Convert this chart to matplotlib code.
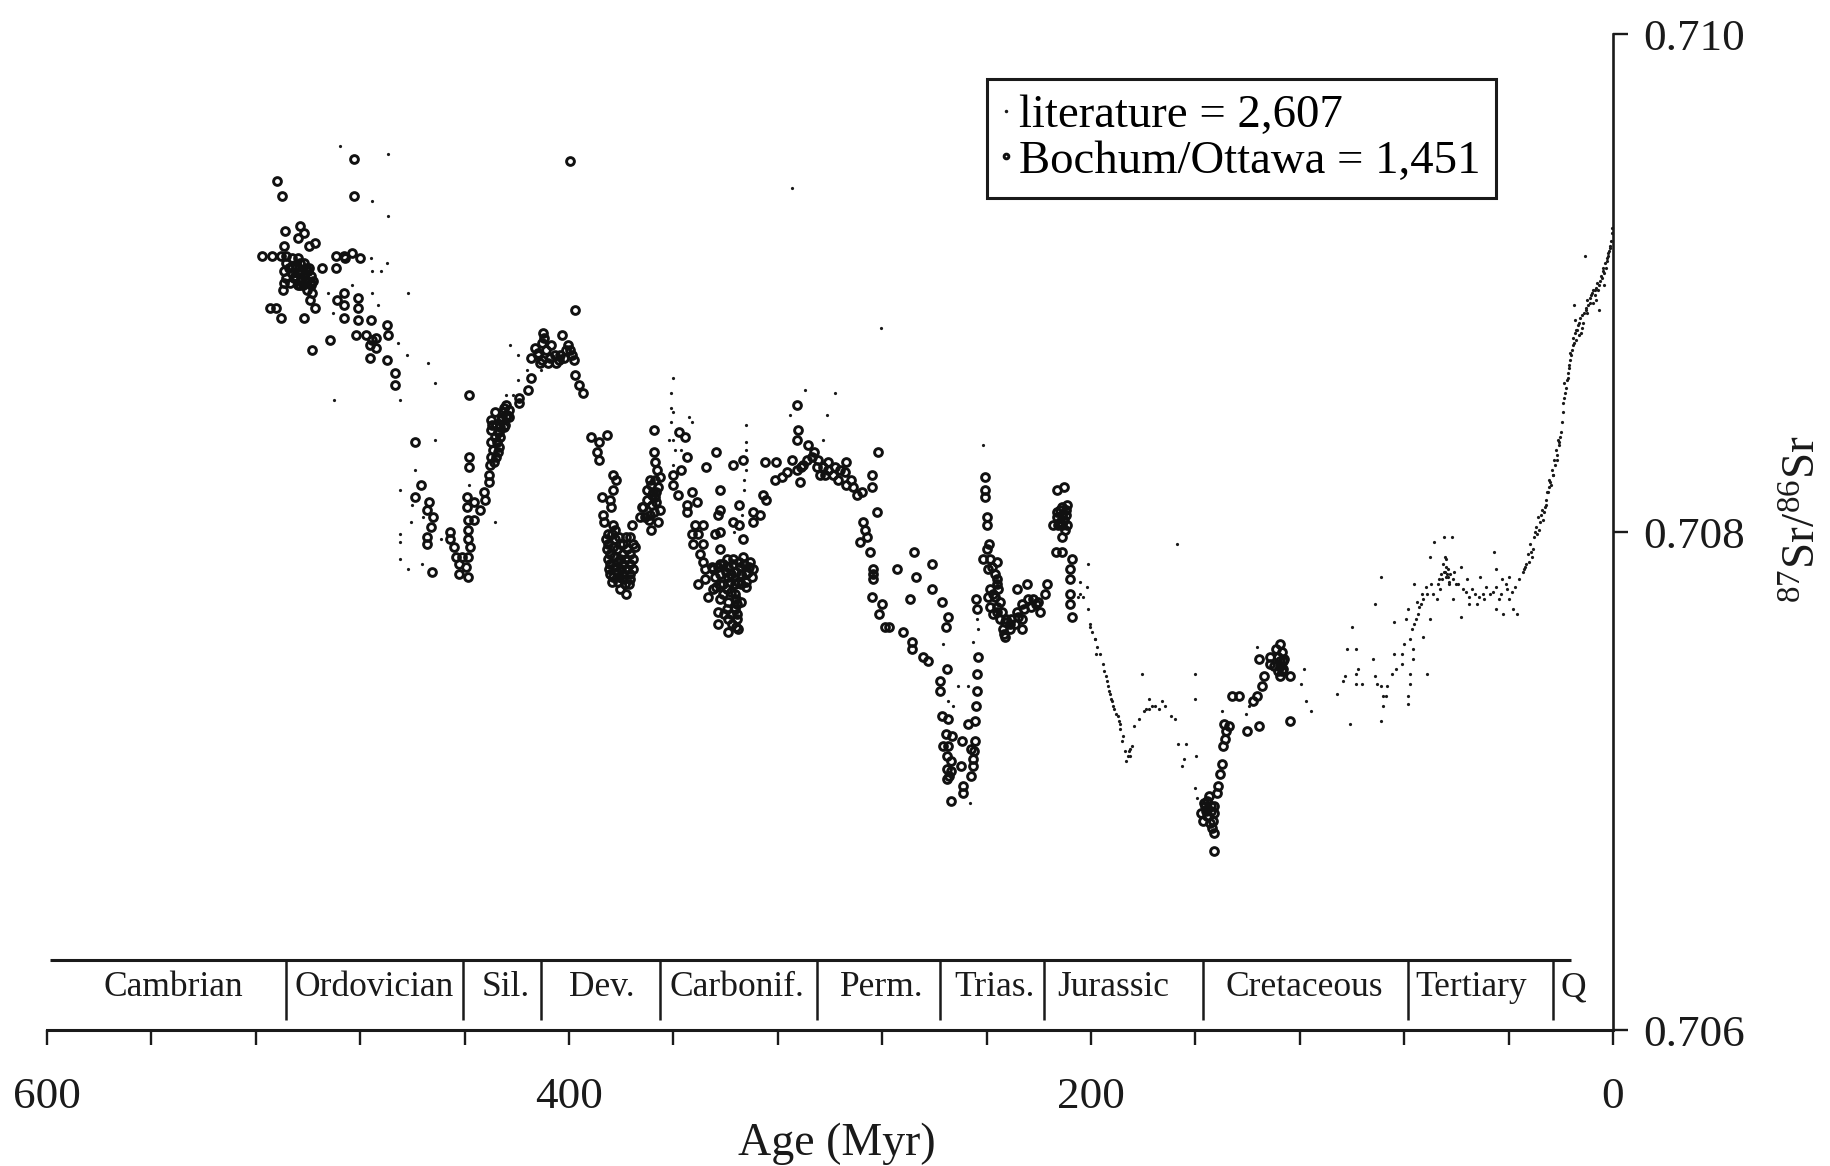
import matplotlib
matplotlib.use("Agg")
import matplotlib.pyplot as plt

plt.rcParams['font.family'] = ['Liberation Serif', 'DejaVu Serif']
plt.rcParams['mathtext.fontset'] = 'custom'
plt.rcParams['mathtext.rm'] = 'Liberation Serif'

period_names = ["Cambrian", "Ordovician", "Sil.", "Dev.", "Carbonif.", "Perm.",
                "Trias.", "Jurassic", "Cretaceous", "Tertiary", "Q"]
period_label_age = [551.7, 474.7, 424.1, 387.5, 335.8, 280, 236.8, 191.6, 118.4, 54.4, 15.3]
period_bounds = [508.4, 440.6, 410.7, 365, 305, 257.7, 218, 157, 78.5, 23]

x_ticks = [600, 560, 520, 480, 440, 400, 360, 320, 280, 240, 200, 160, 120, 80, 40, 0]
x_tick_labels = ["600", "", "", "", "", "400", "", "", "", "", "200", "", "", "", "", "0"]
y_ticks = [0.706, 0.708, 0.710]

cambrian_age = [517.5, 513.7, 510.3, 508.5, 508.8, 509.2, 503.2, 501.7, 504, 499.8, 497.2, 494.7,
                508.5, 506.2, 504, 501.7, 499.5, 507.3, 504.7, 502.5, 509.2, 506.2, 504, 501, 498.7,
                508.5, 505.5, 502.8, 500.2, 509.2, 503.2, 498.7, 509.5, 498.3, 499.2, 497.2,
                514.5, 512.2, 510.4, 501.5, 498.3, 491.5, 512, 509.9,
                506, 504.5, 503, 501.5, 500, 505, 502.8, 500.8, 499, 506.8, 504, 501.8, 500.3, 498]
cambrian_sr = [0.70911, 0.70911, 0.70911, 0.70911, 0.70921, 0.70915, 0.70923, 0.70920, 0.70918, 0.70915, 0.70916, 0.70906,
               0.70908, 0.70910, 0.70910, 0.70908, 0.70906, 0.70906, 0.70907, 0.70905, 0.70905, 0.70904, 0.70904, 0.70904, 0.70903,
               0.70902, 0.70902, 0.70901, 0.70901, 0.70900, 0.70899, 0.70899, 0.70897, 0.70896, 0.70893, 0.70890,
               0.70890, 0.70890, 0.70886, 0.70886, 0.70873, 0.70877, 0.70941, 0.70935,
               0.70907, 0.70906, 0.70908, 0.70903, 0.70905, 0.70903, 0.70902, 0.70906, 0.70900, 0.70900, 0.70899, 0.70899, 0.70897, 0.70901]

ordovician_age = [482.3, 482.3, 489.4, 486.3, 483, 480, 485.7, 489.4, 486.3, 489, 486.3, 480.7, 480.7,
                  486.3, 480.7, 475.8, 469.8, 481.5, 477.8, 475.5, 469.5, 476.3, 474, 476.3, 469.8,
                  466.5, 466.5, 474]
ordovician_sr = [0.70950, 0.70935, 0.70911, 0.70911, 0.70912, 0.70910, 0.70910, 0.70906, 0.70896, 0.70893, 0.70891, 0.70894, 0.70890,
                 0.70886, 0.70885, 0.70885, 0.70883, 0.70879, 0.70879, 0.70877, 0.70879, 0.70875, 0.70874, 0.70870, 0.70869,
                 0.70864, 0.70859, 0.70878]

silurian_age = [459, 438.3, 456.7, 459, 453.5, 454.5, 452.2, 453, 454.5, 454.5, 452.5,
                445.5, 445.5, 444, 443.2, 441, 438.7, 442.2, 439.5, 442.2, 438.7, 438.7, 438, 438.7, 438.7,
                439.2, 439.2, 436.5, 436.5, 434.2, 432, 432.7, 430.8, 430.8, 438.3, 438.3,
                430, 429, 429.7, 427.2, 427.5, 429.7, 426.7, 429.7, 426, 424.5, 428.2, 425.2, 423, 423, 427.2, 423.7,
                419.2, 419.2, 415.9, 414.4, 410, 410.2, 413.2, 414.7, 411.7, 408.7, 407.2, 410.2, 405, 402, 402.5,
                400.5, 399, 398.2, 397.7, 396, 394.5, 399.6, 397.8,
                429.5, 428, 426.5, 425, 424, 428.5, 427, 425.7, 424.2, 430.3, 428.8, 427.8, 426.3, 424.8,
                412, 409.5, 407, 405.5, 403.5, 401, 399.8, 411, 408, 404]
silurian_sr = [0.70836, 0.70855, 0.70819, 0.70814, 0.70812, 0.70809, 0.70806, 0.70802, 0.70798, 0.70795, 0.70784,
               0.70800, 0.70797, 0.70794, 0.70790, 0.70790, 0.70790, 0.70787, 0.70786, 0.70783, 0.70782, 0.70797, 0.70794, 0.70801, 0.70805,
               0.70810, 0.70814, 0.70812, 0.70805, 0.70809, 0.70813, 0.70816, 0.70820, 0.70823, 0.70830, 0.70826,
               0.70830, 0.70833, 0.70836, 0.70832, 0.70836, 0.70841, 0.70840, 0.70845, 0.70845, 0.70843, 0.70848, 0.70848, 0.70849, 0.70846, 0.70840, 0.70847,
               0.70852, 0.70854, 0.70857, 0.70862, 0.70880, 0.70876, 0.70874, 0.70870, 0.70872, 0.70873, 0.70870, 0.70869, 0.70868, 0.70870, 0.70879,
               0.70875, 0.70871, 0.70869, 0.70863, 0.70859, 0.70856, 0.70949, 0.70889,
               0.70843, 0.70843, 0.70838, 0.70842, 0.70846, 0.70838, 0.70834, 0.70846, 0.70851, 0.70827, 0.70828, 0.70830, 0.70842, 0.70850,
               0.70871, 0.70878, 0.70875, 0.70871, 0.70871, 0.70873, 0.70873, 0.70868, 0.70868, 0.70869]

devonian_age = [391.6, 385.3, 388.5, 389.4, 388.5, 383, 382.1, 383, 387.5, 384.3, 384, 386.9, 386.6, 383,
                385, 382.4, 385, 382.4, 379.2, 376.6, 374.7, 384.3, 381.8, 379.2, 376.6, 384.3, 381.8, 379.2, 376.6,
                384.3, 381.8, 379.2, 376.6, 383.7, 381.1, 378.6, 376.6, 378.3,
                376, 372.8, 371.5, 369, 368.7, 365.8, 368.3, 368.3, 369, 367.1, 365.8, 367.1, 365.2, 366.4, 367.1, 367.4, 367.4, 365.2,
                386, 383.5, 381, 378, 375.5, 385.5, 383, 380.5, 377.8, 375.5, 385.2, 382.8, 380.4, 378, 375.6, 384.8, 382.5, 380, 377.7, 383, 381, 379.3, 377.2, 380.6,
                372, 370, 368, 366.5, 371, 369.5, 367.5, 370, 368.5, 366.8]
devonian_sr = [0.70838, 0.70839, 0.70836, 0.70832, 0.70829, 0.70823, 0.70821, 0.70817, 0.70814, 0.70813, 0.70810, 0.70807, 0.70804, 0.70803,
               0.70799, 0.70801, 0.70795, 0.70797, 0.70795, 0.70798, 0.70794, 0.70791, 0.70793, 0.70791, 0.70791, 0.70787, 0.70788, 0.70787, 0.70787,
               0.70783, 0.70784, 0.70783, 0.70783, 0.70780, 0.70780, 0.70779, 0.70781, 0.70775,
               0.70803, 0.70806, 0.70810, 0.70807, 0.70801, 0.70804, 0.70811, 0.70815, 0.70821, 0.70821, 0.70818, 0.70814, 0.70809, 0.70825, 0.70828, 0.70832, 0.70841, 0.70822,
               0.70797, 0.70799, 0.70798, 0.70798, 0.70795, 0.70793, 0.70794, 0.70795, 0.70793, 0.70789, 0.70789, 0.70790, 0.70789, 0.70789, 0.70785, 0.70785, 0.70786, 0.70785, 0.70785, 0.70782, 0.70782, 0.70781, 0.70779, 0.70777,
               0.70810, 0.70813, 0.70816, 0.70812, 0.70806, 0.70805, 0.70808, 0.70817, 0.70819, 0.70816]

carbonif_age = [357.9, 355.6, 354.7, 357.1, 360, 360, 358.1, 353, 354.9, 351.1, 354.9, 351.7, 348.6, 353, 350.5, 352.4, 348.6, 349.8, 348.6,
                350.5, 347.9, 347.9, 346.6, 344.7, 343.6, 347.5, 342.2, 342.2, 342.8, 344.1, 342.2, 337.3, 333.5, 334.8, 337.1, 334.8, 333.2,
                329.4, 326.8, 329.4, 325.6, 324.7, 342.2, 345.4, 342.2, 339.6, 337.1, 333.2, 330.7, 329.4, 331.3, 334.5, 332, 335.1, 339,
                342.2, 339.6, 336.4, 342.2, 339, 335.8, 342.8, 339.6, 336.4, 342.8, 339, 335.8, 339, 335.1,
                324.9, 320.7, 321.1, 318.5, 316.6, 314.7, 312.8, 311.5, 312.8, 312.2, 312.5, 308.3, 310.2, 307, 304.5, 303.9, 302.6,
                300.7, 300.7, 298.1, 296.8, 293.9, 294.3, 293.7, 291.1, 289.8, 287.9,
                345, 343, 341, 339, 337, 335, 333, 331, 344, 342, 340, 338, 336, 334, 332, 330, 343.5, 341, 338.5, 336.5, 334, 332,
                341, 338, 336, 334, 340.5, 338, 335.5, 337.7, 336,
                311, 309, 306, 305, 302, 299, 296, 292]
carbonif_sr = [0.70840, 0.70838, 0.70830, 0.70825, 0.70823, 0.70819, 0.70815, 0.70816, 0.70811, 0.70812, 0.70808, 0.70803, 0.70803, 0.70799, 0.70799, 0.70795, 0.70795, 0.70791, 0.70788,
               0.70779, 0.70785, 0.70781, 0.70774, 0.70777, 0.70832, 0.70826, 0.70817, 0.70809, 0.70807, 0.70799, 0.70800, 0.70827, 0.70829, 0.70811, 0.70804, 0.70803, 0.70797,
               0.70808, 0.70807, 0.70804, 0.70815, 0.70813, 0.70793, 0.70786, 0.70787, 0.70789, 0.70789, 0.70790, 0.70788, 0.70785, 0.70784, 0.70786, 0.70780, 0.70780, 0.70782,
               0.70779, 0.70777, 0.70775, 0.70773, 0.70772, 0.70771, 0.70768, 0.70769, 0.70769, 0.70763, 0.70765, 0.70765, 0.70760, 0.70761,
               0.70828, 0.70828, 0.70821, 0.70822, 0.70824, 0.70829, 0.70825, 0.70820, 0.70851, 0.70841, 0.70837, 0.70835, 0.70827, 0.70830, 0.70829, 0.70823, 0.70826,
               0.70828, 0.70825, 0.70826, 0.70821, 0.70828, 0.70824, 0.70819, 0.70818, 0.70815, 0.70816,
               0.70785, 0.70786, 0.70787, 0.70786, 0.70787, 0.70788, 0.70787, 0.70786, 0.70782, 0.70783, 0.70784, 0.70783, 0.70784, 0.70783, 0.70783, 0.70782, 0.70778, 0.70779, 0.70780, 0.70779, 0.70779, 0.70778,
               0.70775, 0.70776, 0.70773, 0.70772, 0.70767, 0.70767, 0.70767, 0.70763, 0.70762,
               0.70826, 0.70829, 0.70832, 0.70826, 0.70823, 0.70823, 0.70825, 0.70821]

permian_age = [281.5, 284, 284, 282.1, 287.5, 286.6, 286, 288.5, 284.7, 283.7, 283.7, 283.7, 284, 280.2, 281.2, 279, 272,
               268.7, 268.7, 264.3, 262.4, 255.3, 267.7, 274.5, 260.8, 267.1, 260.8, 269.4, 256.9, 254.7, 255.6, 277.5]
permian_sr = [0.70832, 0.70823, 0.70818, 0.70808, 0.70804, 0.70801, 0.70798, 0.70796, 0.70792, 0.70785, 0.70783, 0.70781, 0.70774, 0.70771, 0.70767, 0.70762, 0.70760,
              0.70756, 0.70753, 0.70750, 0.70748, 0.70745, 0.70792, 0.70785, 0.70787, 0.70782, 0.70777, 0.70773, 0.70772, 0.70766, 0.70762, 0.70762]

triassic_age = [257.9, 257.9, 256.9, 254.7, 253.4, 256.6, 254.7, 255.3, 255.3, 254.4, 249.6, 249.8, 248.9, 249.2, 253.7, 245.8, 247, 244.5,
                244.2, 243.8, 243.8, 243.4, 244.5, 245.1, 245.1, 240.6, 240.6, 240.6, 240, 240, 239, 239.7, 241.3, 238.7, 236.2, 239.4, 236.8,
                236.2, 238.7, 244.2, 243.8, 239.4, 236.8, 238.7, 236.2, 237.5, 234.9, 233.6, 231, 233, 229.2, 226.6, 226.6, 228.5, 226.6,
                224, 220.2, 219.6, 217.7, 217, 224.7, 228.5, 222.1, 213.2, 210.3, 209.1, 211.9, 213.2, 211.3, 209.4, 214.5, 211.3, 209.1,
                211.3, 213.6, 211, 207.1, 208.1, 208.1, 208.1, 208.1, 207.1,
                238, 236, 237.5, 235, 234, 232.5, 230.5, 228, 225.5, 223, 221, 235.5, 233, 231, 236, 233.5,
                213, 212, 210.5, 209.5, 211, 212.5, 210, 255.5, 253.5, 255, 253.8, 246, 244.8]
triassic_sr = [0.70740, 0.70736, 0.70726, 0.70725, 0.70718, 0.70714, 0.70714, 0.70710, 0.70705, 0.70702, 0.70716, 0.70706, 0.70698, 0.70695, 0.70692, 0.70702, 0.70723, 0.70724,
               0.70730, 0.70736, 0.70743, 0.70750, 0.70716, 0.70709, 0.70706, 0.70822, 0.70817, 0.70814, 0.70806, 0.70803, 0.70795, 0.70793, 0.70789, 0.70789, 0.70788, 0.70785, 0.70783,
               0.70779, 0.70777, 0.70773, 0.70769, 0.70774, 0.70774, 0.70770, 0.70770, 0.70767, 0.70765, 0.70761, 0.70761, 0.70758, 0.70763, 0.70761, 0.70765, 0.70768, 0.70771,
               0.70773, 0.70772, 0.70768, 0.70775, 0.70779, 0.70779, 0.70777, 0.70773, 0.70817, 0.70818, 0.70811, 0.70809, 0.70806, 0.70807, 0.70807, 0.70803, 0.70803, 0.70803,
               0.70798, 0.70792, 0.70792, 0.70789, 0.70785, 0.70781, 0.70775, 0.70771, 0.70766,
               0.70786, 0.70781, 0.70775, 0.70772, 0.70768, 0.70765, 0.70765, 0.70766, 0.70769, 0.70770, 0.70771, 0.70777, 0.70764, 0.70763, 0.70768, 0.70759,
               0.70808, 0.70804, 0.70805, 0.70809, 0.70810, 0.70803, 0.70801, 0.70719, 0.70708, 0.70701, 0.70704, 0.70713, 0.70712]

cretaceous_age = [152.7, 153, 157, 157.8, 156.3, 154.9, 154.1, 152.7, 153.4, 155.6, 151.9, 151.2, 150.5, 150, 149.4, 148.6, 148.3, 147.1, 149,
                  140.2, 135.5, 123.8, 146.1, 143.4, 138, 136.5, 134.3, 133.9, 135.5, 131.4, 131.4, 128.5, 127.7, 127, 127.7, 126.3, 127.7, 123.8, 126,
                  156, 155, 154, 153, 155.5, 154.5, 153.5, 156.8, 129, 127.7, 126.5, 130, 128.5, 126.8]
cretaceous_sr = [0.70672, 0.70679, 0.70684, 0.70687, 0.70690, 0.70694, 0.70690, 0.70687, 0.70684, 0.70686, 0.70695, 0.70698, 0.70703, 0.70707, 0.70714, 0.70717, 0.70720, 0.70722, 0.70723,
                 0.70720, 0.70722, 0.70724, 0.70734, 0.70734, 0.70732, 0.70734, 0.70738, 0.70742, 0.70749, 0.70750, 0.70747, 0.70750, 0.70755, 0.70752, 0.70746, 0.70745, 0.70742, 0.70742, 0.70749,
                 0.70688, 0.70686, 0.70688, 0.70690, 0.70692, 0.70683, 0.70681, 0.70691, 0.70753, 0.70748, 0.70748, 0.70746, 0.70744, 0.70744]

lit_paleozoic_age = [487.8, 469.4, 475.4, 469.2, 476, 475.4, 472, 469.7, 475.4, 461.5, 483.3, 492.4, 473.1, 490.5, 465.7, 462.2, 454.2, 451.2, 490, 464.6,
                     422.7, 419.7, 416, 410.7, 424.1, 421.6, 419.7, 451.2, 459, 464.6, 460, 460.7, 456, 464.6, 464.6, 464.6, 461.5, 456.2, 448.9, 428.4, 438.3,
                     314.7, 360.2, 360.9, 360.9, 360.2, 360.9, 354.2, 352.7, 361.7, 360.2, 359.5, 357.2, 360.2, 332.2, 332.2, 332.2, 332.2, 332.9, 332.9, 333.7, 336.7,
                     309.5, 298.1, 301.2, 302.6, 315.2, 280.3, 241.5, 245.1, 243.8, 243.2, 250.9, 247, 254.7, 252.8, 246.4, 256.6,
                     201.1, 204.2, 201.7, 204.2, 201.1, 204.9, 203, 200.4, 198.5, 197.9]
lit_paleozoic_sr = [0.70955, 0.70952, 0.70933, 0.70927, 0.70910, 0.70905, 0.70905, 0.70908, 0.70896, 0.70896, 0.70899, 0.70896, 0.70891, 0.70888, 0.70876, 0.70871, 0.70868, 0.70860, 0.70853, 0.70853,
                    0.70875, 0.70871, 0.70865, 0.70865, 0.70855, 0.70855, 0.70861, 0.70837, 0.70825, 0.70817, 0.70811, 0.70804, 0.70806, 0.70799, 0.70796, 0.70789, 0.70785, 0.70787, 0.70797, 0.70804, 0.70819,
                    0.70938, 0.70862, 0.70856, 0.70850, 0.70848, 0.70844, 0.70846, 0.70844, 0.70837, 0.70837, 0.70833, 0.70833, 0.70827, 0.70843, 0.70836, 0.70833, 0.70825, 0.70821, 0.70817, 0.70807, 0.70800,
                    0.70857, 0.70856, 0.70847, 0.70837, 0.70847, 0.70882, 0.70835, 0.70756, 0.70765, 0.70761, 0.70738, 0.70738, 0.70732, 0.70730, 0.70691, 0.70755,
                    0.70787, 0.70780, 0.70778, 0.70775, 0.70769, 0.70774, 0.70774, 0.70763, 0.70757, 0.70751]

lit_jurassic_age = [200.3, 199.6, 198.4, 197.8, 196.6, 195.5, 194.9, 193.7, 193, 192.2, 191.5, 190.5, 189.3, 188.9, 188.3, 187.1, 185.6, 184.2, 186.4, 185.2,
                    183.4, 181.7, 179.8, 177.6, 175.4, 171.7, 169.5, 168, 180.5, 177.6, 160, 160.3, 167, 166.6, 163.7, 164.4, 165.1, 159.6, 160.3, 159.3,
                    150, 140.6, 139.5, 136.5, 118.2, 119.7, 117.5, 115.7,
                    194.3, 193.4, 192.6, 191.8, 191, 189.8, 189, 187.8, 186, 185, 178.8, 176.5, 174, 172.8]
lit_jurassic_sr = [0.70762, 0.70760, 0.70757, 0.70754, 0.70751, 0.70747, 0.70744, 0.70740, 0.70736, 0.70733, 0.70730, 0.70727, 0.70724, 0.70721, 0.70716, 0.70712, 0.70712, 0.70714, 0.70708, 0.70710,
                   0.70722, 0.70725, 0.70728, 0.70729, 0.70730, 0.70730, 0.70726, 0.70725, 0.70743, 0.70733, 0.70743, 0.70733, 0.70795, 0.70715, 0.70715, 0.70709, 0.70706, 0.70710, 0.70697, 0.70693,
                   0.70728, 0.70727, 0.70730, 0.70754, 0.70745, 0.70739, 0.70732, 0.70728,
                   0.70742, 0.70738, 0.70735, 0.70732, 0.70729, 0.70726, 0.70723, 0.70718, 0.70710, 0.70713, 0.70729, 0.70730, 0.70729, 0.70732]

lit_late_cret_age = [105.7, 103.5, 102.8, 98.4, 97.7, 98.4, 96.2, 100.6, 102.1, 98.4, 99.9, 91.8, 91.1, 90.4, 88.9, 88.2, 88.2, 86.7, 87, 88.9,
                     84.5, 83, 80.8, 83.8, 80.8, 80.1, 76.7, 76.7, 77.9, 77.9, 78.6, 78.6, 71.3, 83.8, 88.9, 91.1]
lit_late_cret_sr = [0.70735, 0.70740, 0.70742, 0.70743, 0.70745, 0.70739, 0.70739, 0.70723, 0.70753, 0.70753, 0.70762, 0.70749, 0.70742, 0.70739, 0.70738, 0.70734, 0.70730, 0.70738, 0.70734, 0.70724,
                    0.70743, 0.70745, 0.70747, 0.70751, 0.70751, 0.70755, 0.70753, 0.70749, 0.70743, 0.70739, 0.70734, 0.70731, 0.70743, 0.70764, 0.70782, 0.70771]

lit_tertiary_age = [77.9, 77.2, 76.4, 74.9, 74.2, 72.8, 71.3, 69.8, 66.9, 64, 63.3, 64, 64.7, 61.8, 68.4, 70.3, 76.4, 78.6, 79.4, 70.3, 72.8, 67.6, 66.2, 61.2,
                    58.1, 61.2, 58.1, 57.4, 55.9, 55.2, 55.2, 52.2, 53, 50.8, 50, 47.1, 45.7, 44.9, 44.9, 44.9, 42, 42.7, 40.5, 38.3, 36.6, 37.6, 39.8, 36.1,
                    65, 64.2, 63.6, 62.8, 65.5, 63, 75.5, 73.5, 75, 73, 71.8, 69, 59.5, 56.5, 54, 48.5, 46, 43.5, 41,
                    64.4, 63.8, 64.8, 63.2, 62.5, 65.8, 66.5, 61, 60, 51.5, 49.3, 43, 40, 38.8]
lit_tertiary_sr = [0.70757, 0.70761, 0.70763, 0.70767, 0.70770, 0.70773, 0.70775, 0.70779, 0.70779, 0.70782, 0.70785, 0.70789, 0.70798, 0.70798, 0.70796, 0.70790, 0.70779, 0.70769, 0.70765, 0.70765, 0.70758, 0.70773, 0.70777, 0.70781,
                   0.70786, 0.70773, 0.70766, 0.70777, 0.70781, 0.70774, 0.70771, 0.70771, 0.70775, 0.70782, 0.70775, 0.70775, 0.70792, 0.70785, 0.70769, 0.70778, 0.70767, 0.70781, 0.70777, 0.70769, 0.70767, 0.70778, 0.70782, 0.70781,
                   0.70787, 0.70784, 0.70783, 0.70780, 0.70781, 0.70779, 0.70765, 0.70771, 0.70772, 0.70775, 0.70778, 0.70775, 0.70779, 0.70776, 0.70777, 0.70778, 0.70776, 0.70773, 0.70779,
                   0.70790, 0.70786, 0.70784, 0.70782, 0.70783, 0.70783, 0.70781, 0.70784, 0.70779, 0.70774, 0.70773, 0.70775, 0.70773, 0.70776]

lit_rise_age = [34.6, 33.2, 32.7, 31.7, 30.2, 29.5, 28.8, 27.3, 25.8, 25.1, 24.4, 23.4, 22.5, 21.9, 21, 20, 18.3, 17.2, 16.1, 15, 14, 11.9, 9.7, 6.5, 5.5, 3.4, 2.3, 1.2,
                10.8, 5.5, 15, 3.4, 7.6, 12.3, 18.6, 19, 19.3, 19.7, 20.3, 20.6, 21.4, 22.2, 22.9, 23.8, 24.7, 25.5, 26.4, 27, 28.1, 28.3, 29, 30.7, 31, 33.8, 32, 34,
                17.7, 17, 16.6, 16.4, 15.5, 15.3, 14.5, 13.5, 13, 12.5, 11, 10.5, 10, 9, 8.5, 8, 7, 6.5, 6, 5, 4.5, 4, 3, 2.7, 2, 1.5, 0.8, 0.4, 0.2, 13, 12, 14.7, 9.8, 7.6,
                18.9, 18.1, 17.4, 16.8, 15.8, 14.3, 13.8, 11.5, 10.2, 8.8, 6.8, 5.8, 4.2, 3.8, 2.4, 1.8, 1, 23.1, 24, 24.9, 20.8, 21.6, 26.1, 27.6, 29.8, 31.3]
lit_rise_sr = [0.70784, 0.70787, 0.70791, 0.70795, 0.70798, 0.70802, 0.70806, 0.70809, 0.70813, 0.70816, 0.70821, 0.70825, 0.70829, 0.70833, 0.70837, 0.70840, 0.70856, 0.70864, 0.70871, 0.70876, 0.70881, 0.70887, 0.70891, 0.70893, 0.70899, 0.70904, 0.70909, 0.70915,
               0.70911, 0.70889, 0.70891, 0.70899, 0.70897, 0.70880, 0.70860, 0.70852, 0.70848, 0.70844, 0.70838, 0.70835, 0.70831, 0.70827, 0.70823, 0.70819, 0.70818, 0.70811, 0.70808, 0.70805, 0.70804, 0.70801, 0.70799, 0.70793, 0.70790, 0.70786, 0.70788, 0.70785,
               0.70861, 0.70866, 0.70869, 0.70872, 0.70875, 0.70878, 0.70880, 0.70883, 0.70884, 0.70886, 0.70888, 0.70890, 0.70893, 0.70894, 0.70895, 0.70896, 0.70895, 0.70898, 0.70900, 0.70901, 0.70903, 0.70906, 0.70908, 0.70906, 0.70912, 0.70913, 0.70917, 0.70920, 0.70922, 0.70879, 0.70882, 0.70885, 0.70888, 0.70892,
               0.70854, 0.70858, 0.70862, 0.70867, 0.70873, 0.70877, 0.70881, 0.70884, 0.70889, 0.70892, 0.70897, 0.70897, 0.70902, 0.70905, 0.70910, 0.70911, 0.70914, 0.70823, 0.70820, 0.70816, 0.70836, 0.70829, 0.70810, 0.70807, 0.70800, 0.70792]

bochum_age = (cambrian_age + ordovician_age + silurian_age + devonian_age + carbonif_age
              + permian_age + triassic_age + cretaceous_age)
bochum_sr = (cambrian_sr + ordovician_sr + silurian_sr + devonian_sr + carbonif_sr
             + permian_sr + triassic_sr + cretaceous_sr)
literature_age = lit_paleozoic_age + lit_jurassic_age + lit_late_cret_age + lit_tertiary_age + lit_rise_age
literature_sr = lit_paleozoic_sr + lit_jurassic_sr + lit_late_cret_sr + lit_tertiary_sr + lit_rise_sr

W, H = 1831, 1166
ink = '#1a1a1a'

fig = plt.figure(figsize=(W / 100, H / 100), dpi=100)
ax = fig.add_axes([47 / W, 1 - 1030 / H, 1566 / W, 996 / H])
ax.set_xlim(600, 0)
ax.set_ylim(0.706, 0.710)

dots, = ax.plot(literature_age, literature_sr, ls='none', marker='o', ms=2.3, mew=0, color=ink, clip_on=False)
rings, = ax.plot(bochum_age, bochum_sr, ls='none', marker='o', ms=5.6, mew=2.1, mfc='none', mec='#111111', clip_on=False)

ax.spines['top'].set_visible(False)
ax.spines['left'].set_visible(False)
ax.spines['bottom'].set_linewidth(2.2)
ax.spines['right'].set_linewidth(1.9)
ax.spines['bottom'].set_color(ink)
ax.spines['right'].set_color(ink)

ax.set_xticks(x_ticks)
ax.set_xticklabels(x_tick_labels)
ax.set_yticks(y_ticks)
ax.set_yticklabels(["0.706", "0.708", "0.710"])
ax.yaxis.tick_right()
ax.tick_params(axis='x', length=11, width=1.7, pad=23, labelsize=32.5, color=ink, labelcolor=ink)
ax.tick_params(axis='y', length=11, width=1.7, pad=10.5, labelsize=32.5, color=ink, labelcolor=ink)

# geologic period strip above the age axis
ax.hlines(0.70628, 599, 16, color=ink, lw=2.2)
ax.vlines(period_bounds, 0.70604, 0.70628, color=ink, lw=1.8)
for name, age in zip(period_names, period_label_age):
    ax.text(age, 0.70617, name, ha='center', va='center', fontsize=25.5, color=ink)

ax.set_xlabel("Age (Myr)", fontsize=33, color=ink, va='center')
ax.xaxis.set_label_coords((837 - 47) / 1566, -0.1145)

fig.text(1804 / W, 1 - 519 / H, r"$\mathrm{^{87}Sr/^{86}Sr}$", rotation=90,
         ha='center', va='center', fontsize=34, color=ink)

leg = ax.legend([dots, rings], ["literature = 2,607", "Bochum/Ottawa = 1,451"],
                loc='upper left', bbox_to_anchor=((987 - 47) / 1566, 1 - (79 - 34) / 996),
                fontsize=33.7, frameon=True, fancybox=False, framealpha=1, edgecolor=ink,
                borderaxespad=0, borderpad=0.33, handlelength=0.15, handletextpad=0.2,
                labelspacing=0.06, numpoints=1)
leg.get_frame().set_linewidth(2.2)
leg.legend_handles[1].set_markersize(3.4)
leg.legend_handles[0].set_markersize(2.5)

fig.savefig("out.png", dpi=100)
